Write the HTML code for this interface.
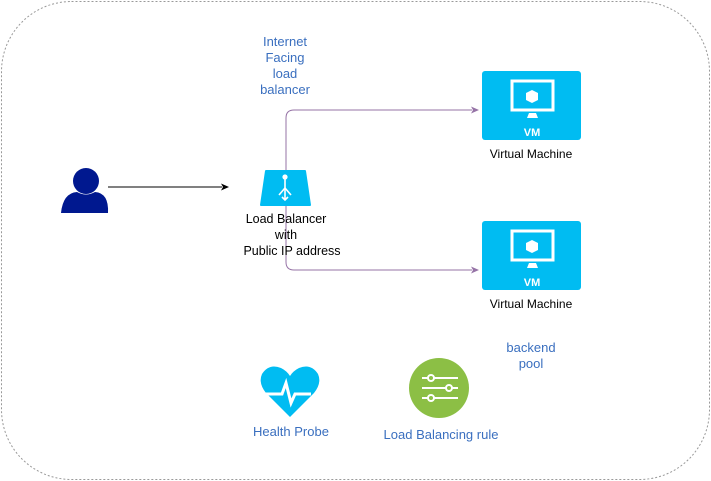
<!DOCTYPE html>
<html><head><style>
body{margin:0;background:#fff;}
svg{display:block;font-family:"Liberation Sans",sans-serif;}
</style></head><body>
<svg width="711" height="481" viewBox="0 0 711 481">
<rect x="1.5" y="1.5" width="708" height="478" rx="70" fill="none" stroke="#999" stroke-dasharray="2,2"/>
<!-- user -->
<circle cx="86" cy="181" r="13" fill="#00188f"/>
<path d="M61 213 Q63 193 77 192 Q86 197 95 192 Q109 193 108 213 Z" fill="#00188f"/>
<line x1="108" y1="187" x2="222" y2="187" stroke="#000"/>
<path d="M229 187 L221 183.5 L223 187 L221 190.5 Z" fill="#000"/>
<!-- connectors -->
<path d="M286 170 L286 118 Q286 110 294 110 L472 110" fill="none" stroke="#9673a6"/>
<path d="M479 110 L471 106.5 L473 110 L471 113.5Z" fill="#9673a6"/>
<path d="M286 205 L286 262 Q286 270 294 270 L472 270" fill="none" stroke="#9673a6"/>
<path d="M479 270 L471 266.5 L473 270 L471 273.5Z" fill="#9673a6"/>
<!-- LB -->
<path d="M266 171 L305 171 L310 205 L261 205 Z" fill="#00bcf2" stroke="#00bcf2" stroke-linejoin="round" stroke-width="2"/>
<g stroke="#fff" stroke-width="1.6" fill="none">
<circle cx="285" cy="177" r="1.8" fill="#fff"/>
<line x1="285" y1="178" x2="285" y2="200"/>
<line x1="285" y1="188" x2="279" y2="195"/><line x1="285" y1="188" x2="291" y2="195"/>
<path d="M282 197 L285 200 L288 197"/>
</g>
<text x="286" y="223" font-size="12.5" text-anchor="middle" fill="#000">Load Balancer</text>
<text x="286" y="239" font-size="12.5" text-anchor="middle" fill="#000">with</text>
<text x="292" y="255" font-size="12.5" text-anchor="middle" fill="#000">Public IP address</text>
<g font-size="13" fill="#3a6fbf" text-anchor="middle">
<text x="285" y="46">Internet</text><text x="285" y="62">Facing</text><text x="285" y="78">load</text><text x="285" y="94">balancer</text>
<text x="531" y="352">backend</text><text x="531" y="368">pool</text>
<text x="291" y="436">Health Probe</text>
<text x="441" y="439">Load Balancing rule</text>
</g>
<!-- VMs -->
<g id="vm">
<rect x="482" y="71" width="99" height="69" rx="3" fill="#00bcf2"/>
<rect x="512" y="81" width="41" height="29" fill="none" stroke="#fff" stroke-width="3"/>
<path d="M532 90 L538 93 L538 100 L532 103 L526 100 L526 93Z" fill="#fff"/>
<path d="M527 118 L538 118 L536 113 L529 113Z" fill="#fff"/>
<text x="532" y="136" font-size="11" font-weight="bold" fill="#fff" text-anchor="middle">VM</text>
</g>
<use href="#vm" y="150"/>
<text x="531" y="158" font-size="12" text-anchor="middle">Virtual Machine</text>
<text x="531" y="308" font-size="12" text-anchor="middle">Virtual Machine</text>
<!-- heart -->
<path d="M290 417 L266 393 Q258 383 262 374 Q269 363 281 368 Q287 371 290 376 Q293 371 299 368 Q311 363 318 374 Q322 383 314 393 Z" fill="#00bcf2"/>
<path d="M264 394 L282 394 L286 383 L291 403 L295 394 L311 394" fill="none" stroke="#fff" stroke-width="3"/>
<!-- rule -->
<circle cx="439" cy="388" r="30" fill="#8cbf45"/>
<g stroke="#fff" stroke-width="2" fill="none">
<line x1="422" y1="378" x2="458" y2="378"/><line x1="422" y1="388" x2="458" y2="388"/><line x1="422" y1="398" x2="458" y2="398"/>
<circle cx="431" cy="378" r="3" fill="#8cbf45"/><circle cx="449" cy="388" r="3" fill="#8cbf45"/><circle cx="431" cy="398" r="3" fill="#8cbf45"/>
</g>
</svg>
</body></html>
